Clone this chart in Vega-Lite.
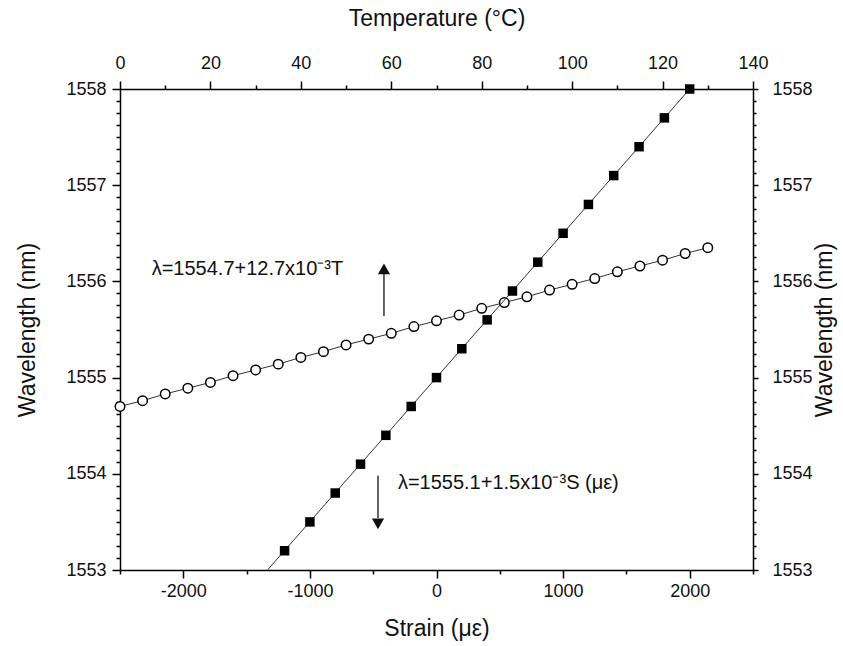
{
  "$schema": "https://vega.github.io/schema/vega-lite/v6.json",
  "width": 633,
  "height": 481,
  "autosize": {"type": "none"},
  "padding": {"left": 120, "top": 89, "right": 90, "bottom": 76},
  "background": "white",
  "config": {
    "view": {"stroke": null},
    "font": "Liberation Sans",
    "axis": {
      "grid": false,
      "domainColor": "#000",
      "tickColor": "#000",
      "labelColor": "#111",
      "titleColor": "#111",
      "labelFont": "Liberation Sans",
      "titleFont": "Liberation Sans",
      "labelFontSize": 18,
      "titleFontSize": 23,
      "titleFontWeight": "normal",
      "labelFlush": false,
      "labelOverlap": false,
      "domainWidth": 1.5,
      "tickWidth": 1.5
    }
  },
  "datasets": {
    "temperature": [
      {"T": 0, "wl": 1554.70}, {"T": 5, "wl": 1554.76}, {"T": 10, "wl": 1554.83},
      {"T": 15, "wl": 1554.89}, {"T": 20, "wl": 1554.95}, {"T": 25, "wl": 1555.02},
      {"T": 30, "wl": 1555.08}, {"T": 35, "wl": 1555.14}, {"T": 40, "wl": 1555.21},
      {"T": 45, "wl": 1555.27}, {"T": 50, "wl": 1555.34}, {"T": 55, "wl": 1555.40},
      {"T": 60, "wl": 1555.46}, {"T": 65, "wl": 1555.53}, {"T": 70, "wl": 1555.59},
      {"T": 75, "wl": 1555.65}, {"T": 80, "wl": 1555.72}, {"T": 85, "wl": 1555.78},
      {"T": 90, "wl": 1555.84}, {"T": 95, "wl": 1555.91}, {"T": 100, "wl": 1555.97},
      {"T": 105, "wl": 1556.03}, {"T": 110, "wl": 1556.10}, {"T": 115, "wl": 1556.16},
      {"T": 120, "wl": 1556.22}, {"T": 125, "wl": 1556.29}, {"T": 130, "wl": 1556.35}
    ],
    "strain": [
      {"strain": -1200, "wavelength": 1553.2}, {"strain": -1000, "wavelength": 1553.5},
      {"strain": -800, "wavelength": 1553.8}, {"strain": -600, "wavelength": 1554.1},
      {"strain": -400, "wavelength": 1554.4}, {"strain": -200, "wavelength": 1554.7},
      {"strain": 0, "wavelength": 1555.0}, {"strain": 200, "wavelength": 1555.3},
      {"strain": 400, "wavelength": 1555.6}, {"strain": 600, "wavelength": 1555.9},
      {"strain": 800, "wavelength": 1556.2}, {"strain": 1000, "wavelength": 1556.5},
      {"strain": 1200, "wavelength": 1556.8}, {"strain": 1400, "wavelength": 1557.1},
      {"strain": 1600, "wavelength": 1557.4}, {"strain": 1800, "wavelength": 1557.7},
      {"strain": 2000, "wavelength": 1558.0}
    ],
    "strainLine": [
      {"strain": -1335, "wavelength": 1553.0},
      {"strain": 2000, "wavelength": 1558.0}
    ],
    "notes": [
      {"strain": -2250, "wavelength": 1556.13, "label": "λ=1554.7+12.7x10⁻³T"},
      {"strain": -305, "wavelength": 1553.9, "label": "λ=1555.1+1.5x10⁻³S (με)"}
    ],
    "arrows": [
      {"strain": -415, "wavelength": 1555.64, "wavelength2": 1556.08},
      {"strain": -462, "wavelength": 1553.98, "wavelength2": 1553.54}
    ],
    "heads": [
      {"strain": -415, "wavelength": 1556.13, "dir": "up"},
      {"strain": -462, "wavelength": 1553.48, "dir": "down"}
    ]
  },
  "layer": [
    {
      "data": {"name": "temperature"},
      "encoding": {
        "x": {
          "field": "T", "type": "quantitative",
          "scale": {"domain": [0, 140], "nice": false, "zero": false},
          "axis": {
            "orient": "top", "values": [0, 20, 40, 60, 80, 100, 120, 140],
            "tickSize": 8, "labelPadding": 9, "labelExpr": "'' + datum.value",
            "title": "Temperature (°C)", "titleX": 316.5, "titleY": -71,
            "titleAlign": "center", "titleBaseline": "middle"
          }
        },
        "y": {
          "field": "wl", "type": "quantitative",
          "scale": {"domain": [1553, 1558], "nice": false, "zero": false},
          "axis": {
            "orient": "left", "values": [1553, 1554, 1555, 1556, 1557, 1558],
            "tickSize": 8, "labelPadding": 6, "labelExpr": "'' + datum.value",
            "title": "Wavelength (nm)", "titleAngle": 270, "titleX": -93, "titleY": 240.5,
            "titleAlign": "center", "titleBaseline": "middle"
          }
        }
      },
      "layer": [
        {"mark": {"type": "line", "color": "#333", "strokeWidth": 1}},
        {"mark": {"type": "point", "shape": "circle", "filled": true, "fill": "white", "stroke": "#000", "strokeWidth": 1.5, "size": 90, "opacity": 1}}
      ]
    },
    {
      "data": {"name": "temperature"},
      "mark": {"type": "point", "opacity": 0},
      "encoding": {
        "x": {
          "field": "T", "type": "quantitative",
          "scale": {"domain": [0, 140], "nice": false, "zero": false},
          "axis": {
            "orient": "top", "values": [10, 30, 50, 70, 90, 110, 130],
            "tickSize": 4, "labels": false, "domain": false, "title": null
          }
        },
        "y": {
          "field": "wl", "type": "quantitative",
          "scale": {"domain": [1553, 1558], "nice": false, "zero": false},
          "axis": {
            "orient": "left",
            "values": [1553.125, 1553.25, 1553.375, 1553.5, 1553.625, 1553.75, 1553.875,
                       1554.125, 1554.25, 1554.375, 1554.5, 1554.625, 1554.75, 1554.875,
                       1555.125, 1555.25, 1555.375, 1555.5, 1555.625, 1555.75, 1555.875,
                       1556.125, 1556.25, 1556.375, 1556.5, 1556.625, 1556.75, 1556.875,
                       1557.125, 1557.25, 1557.375, 1557.5, 1557.625, 1557.75, 1557.875],
            "tickSize": 4, "labels": false, "domain": false, "title": null
          }
        }
      }
    },
    {
      "encoding": {
        "x": {
          "field": "strain", "type": "quantitative",
          "scale": {"domain": [-2500, 2500], "nice": false, "zero": false},
          "axis": {
            "orient": "bottom", "values": [-2000, -1000, 0, 1000, 2000],
            "tickSize": 8, "labelPadding": 4, "labelExpr": "'' + datum.value",
            "title": "Strain (με)", "titleX": 316.5, "titleY": 58,
            "titleAlign": "center", "titleBaseline": "middle"
          }
        },
        "y": {
          "field": "wavelength", "type": "quantitative",
          "scale": {"domain": [1553, 1558], "nice": false, "zero": false},
          "axis": {
            "orient": "right", "values": [1553, 1554, 1555, 1556, 1557, 1558],
            "tickSize": 5, "labelPadding": 14, "labelExpr": "'' + datum.value",
            "title": "Wavelength (nm)", "titleAngle": 270, "titleX": 71, "titleY": 240.5,
            "titleAlign": "center", "titleBaseline": "middle"
          }
        }
      },
      "layer": [
        {
          "data": {"name": "strainLine"},
          "mark": {"type": "line", "color": "#333", "strokeWidth": 1, "clip": true}
        },
        {
          "data": {"name": "strain"},
          "mark": {"type": "square", "size": 90, "color": "#000", "opacity": 1}
        },
        {
          "data": {"name": "notes"},
          "mark": {"type": "text", "align": "left", "baseline": "middle", "fontSize": 20, "font": "Liberation Sans", "color": "#111"},
          "encoding": {"text": {"field": "label"}}
        },
        {
          "data": {"name": "arrows"},
          "mark": {"type": "rule", "color": "#111", "strokeWidth": 1.3},
          "encoding": {"y2": {"field": "wavelength2"}}
        },
        {
          "data": {"name": "heads"},
          "mark": {"type": "point", "filled": true, "color": "#111", "size": 150, "opacity": 1},
          "encoding": {
            "shape": {"field": "dir", "type": "nominal", "scale": {"domain": ["up", "down"], "range": ["triangle-up", "triangle-down"]}, "legend": null}
          }
        }
      ]
    },
    {
      "data": {"name": "strain"},
      "mark": {"type": "point", "opacity": 0},
      "encoding": {
        "x": {
          "field": "strain", "type": "quantitative",
          "scale": {"domain": [-2500, 2500], "nice": false, "zero": false},
          "axis": {
            "orient": "bottom", "values": [-2500, -1500, -500, 500, 1500, 2500],
            "tickSize": 4, "labels": false, "domain": false, "title": null
          }
        },
        "y": {
          "field": "wavelength", "type": "quantitative",
          "scale": {"domain": [1553, 1558], "nice": false, "zero": false},
          "axis": {
            "orient": "right",
            "values": [1553.125, 1553.25, 1553.375, 1553.5, 1553.625, 1553.75, 1553.875,
                       1554.125, 1554.25, 1554.375, 1554.5, 1554.625, 1554.75, 1554.875,
                       1555.125, 1555.25, 1555.375, 1555.5, 1555.625, 1555.75, 1555.875,
                       1556.125, 1556.25, 1556.375, 1556.5, 1556.625, 1556.75, 1556.875,
                       1557.125, 1557.25, 1557.375, 1557.5, 1557.625, 1557.75, 1557.875],
            "tickSize": 3, "labels": false, "domain": false, "title": null
          }
        }
      }
    }
  ],
  "resolve": {
    "scale": {"x": "independent", "y": "independent"},
    "axis": {"x": "independent", "y": "independent"}
  }
}
